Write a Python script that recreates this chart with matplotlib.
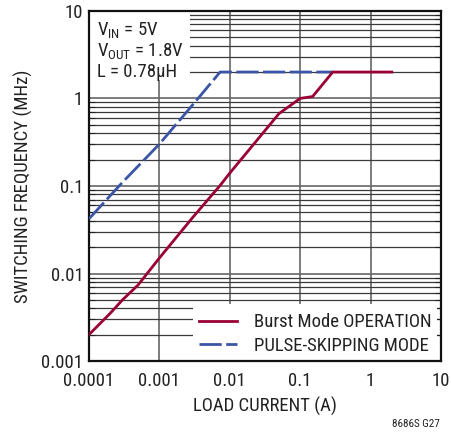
import matplotlib
matplotlib.use('Agg')
import matplotlib.pyplot as plt
from matplotlib.patches import Rectangle
from matplotlib.ticker import LogLocator, NullFormatter, FixedLocator

plt.rcParams['font.family'] = ['Roboto Condensed', 'DejaVu Sans']
plt.rcParams['mathtext.fontset'] = 'custom'
plt.rcParams['mathtext.rm'] = 'Roboto Condensed'

# данные
burst_x = [0.0001, 0.0002, 0.0003, 0.0005, 0.001, 0.003, 0.0072, 0.01, 0.05, 0.1, 0.15, 0.29, 2.0]
burst_y = [0.002, 0.0035, 0.005, 0.0074, 0.015, 0.044, 0.1, 0.14, 0.67, 1.0, 1.05, 2.0, 2.0]

skip_x = [0.0001, 0.0003, 0.001, 0.003, 0.0073, 0.29]
skip_y = [0.042, 0.11, 0.3, 0.85, 2.0, 2.0]

x_ticks = [0.0001, 0.001, 0.01, 0.1, 1, 10]
x_labels = ['0.0001', '0.001', '0.01', '0.1', '1', '10']
y_ticks = [0.001, 0.01, 0.1, 1, 10]
y_labels = ['0.001', '0.01', '0.1', '1', '10']

red = '#9a0034'
blue = '#3a55a6'
fs = 13.5

fig = plt.figure(figsize=(4.51, 4.33), dpi=100)
ax = fig.add_axes([0.197, 0.166, 0.781, 0.809])
ax.set_xscale('log')
ax.set_yscale('log')
ax.set_xlim(0.0001, 10)
ax.set_ylim(0.001, 10)

ax.set_xticks(x_ticks)
ax.set_xticklabels(x_labels)
ax.set_yticks(y_ticks)
ax.set_yticklabels(y_labels)
ax.xaxis.set_minor_locator(FixedLocator([]))
ax.yaxis.set_minor_locator(LogLocator(base=10, subs=range(2, 10)))
ax.yaxis.set_minor_formatter(NullFormatter())

ax.set_axisbelow(True)
ax.grid(True, which='major', axis='both', color='#666666', lw=1.2)
ax.grid(True, which='minor', axis='y', color='#3a3a3a', lw=0.9)
ax.tick_params(which='both', direction='in', right=True, top=False, labelsize=fs,
               colors='#222222')
ax.tick_params(axis='x', pad=8)
ax.tick_params(axis='y', pad=4)
ax.tick_params(which='major', length=0)
ax.tick_params(which='minor', length=4, width=0.8)
for s in ax.spines.values():
    s.set_linewidth(1.6)
    s.set_color('#111111')

# белые подложки под текст и легенду
ax.add_patch(Rectangle((0, 0.803), 0.287, 0.197, transform=ax.transAxes,
                       facecolor='white', edgecolor='none', zorder=1))
ax.add_patch(Rectangle((0.295, 0), 0.694, 0.163, transform=ax.transAxes,
                       facecolor='white', edgecolor='none', zorder=1))

ax.plot(skip_x, skip_y, color=blue, lw=2.0, dashes=(8, 1.6), zorder=3,
        label='PULSE-SKIPPING MODE')
ax.plot(burst_x, burst_y, color=red, lw=2.0, zorder=4, label='Burst Mode OPERATION')

h, l = ax.get_legend_handles_labels()
ax.legend(h[::-1], l[::-1], loc='lower right', bbox_to_anchor=(1.01, -0.02),
          frameon=False, fontsize=fs, handlelength=2.0, handletextpad=0.9,
          labelspacing=0.3, borderaxespad=0.3, labelcolor='#222222')

ax.text(0.022, 0.972, 'V$_{\\mathrm{IN}}$ = 5V\nV$_{\\mathrm{OUT}}$ = 1.8V\nL = 0.78\u03bcH',
        transform=ax.transAxes, va='top', ha='left', fontsize=fs,
        linespacing=1.05, color='#222222', zorder=5)

ax.set_xlabel('LOAD CURRENT (A)', fontsize=fs, color='#222222', labelpad=5)
ax.set_ylabel('SWITCHING FREQUENCY (MHz)', fontsize=fs, color='#222222', labelpad=6)

fig.text(440 / 451, 1 - 424 / 433, '8686S G27', ha='right', va='center',
         fontsize=8, color='#222222')

fig.savefig('out.png', dpi=100)
